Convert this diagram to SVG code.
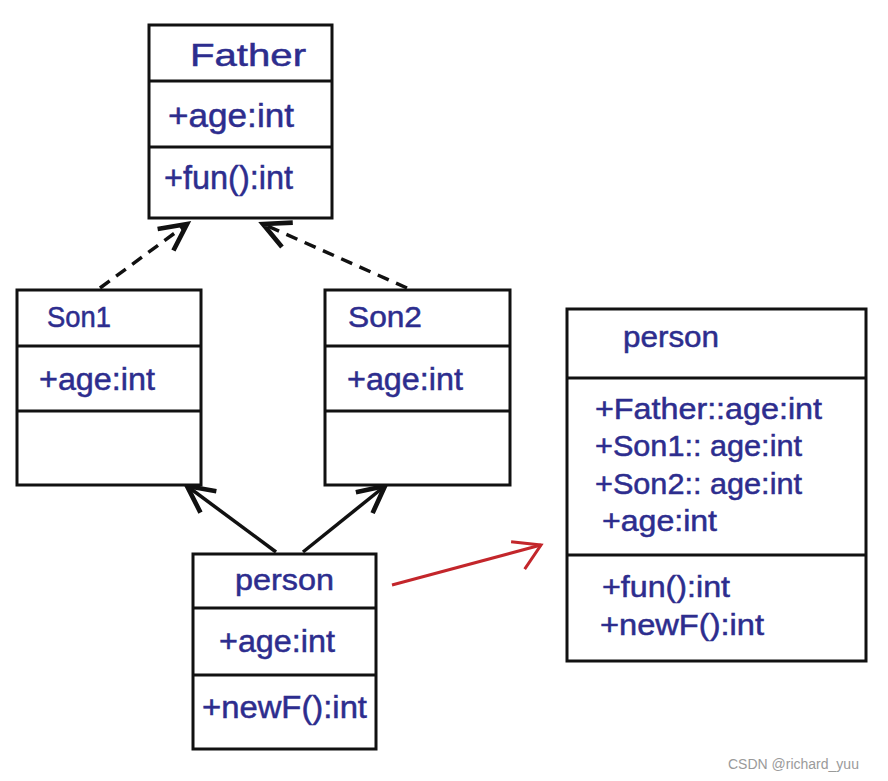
<svg xmlns="http://www.w3.org/2000/svg" width="888" height="781" viewBox="0 0 888 781">
<defs>
<style>
.box{fill:#fff;stroke:#111;stroke-width:3}
.div{stroke:#111;stroke-width:3}
.t{font-family:"Liberation Sans",Arial,sans-serif;fill:#2d2d8e;stroke:#2d2d8e;stroke-width:0.5}
.con{fill:none;stroke:#111;stroke-width:3.5}
.dash{stroke-dasharray:12 8}
.red{fill:none;stroke:#c3262b;stroke-width:3}
</style>
<marker id="open" markerUnits="userSpaceOnUse" markerWidth="40" markerHeight="40" viewBox="-25 -15 30 30" refX="0" refY="0" orient="auto">
<path d="M -20 -10 L 0 0 L -20 10" fill="none" stroke="#111" stroke-width="3.5"/>
</marker>
<marker id="openred" markerUnits="userSpaceOnUse" markerWidth="50" markerHeight="50" viewBox="-30 -25 35 50" refX="0" refY="0" orient="auto">
<path d="M -28 -11 L 0 0 L -22 19" fill="none" stroke="#c3262b" stroke-width="3"/>
</marker>
</defs>
<rect width="888" height="781" fill="#fff"/>

<g id="connectors">
<line class="con dash" x1="100" y1="288" x2="187" y2="224" marker-end="url(#open)"/>
<line class="con dash" x1="407" y1="288" x2="263" y2="224" marker-end="url(#open)"/>
<line class="con" x1="276" y1="552" x2="187" y2="486" marker-end="url(#open)"/>
<line class="con" x1="303" y1="552" x2="385" y2="486" marker-end="url(#open)"/>
<line class="red" x1="392" y1="585" x2="541" y2="545" marker-end="url(#openred)"/>
</g>

<g id="father">
<rect class="box" x="149" y="25" width="183" height="193"/>
<line class="div" x1="149" y1="81" x2="332" y2="81"/>
<line class="div" x1="149" y1="147" x2="332" y2="147"/>
<text class="t" x="190" y="66" font-size="32" textLength="116" lengthAdjust="spacingAndGlyphs">Father</text>
<text class="t" x="168" y="127" font-size="34" textLength="126" lengthAdjust="spacingAndGlyphs">+age:int</text>
<text class="t" x="164" y="189" font-size="34" textLength="129" lengthAdjust="spacingAndGlyphs">+fun():int</text>
</g>

<g id="son1">
<rect class="box" x="17" y="290" width="184" height="195"/>
<line class="div" x1="17" y1="346" x2="201" y2="346"/>
<line class="div" x1="17" y1="411" x2="201" y2="411"/>
<text class="t" x="47" y="327" font-size="29" textLength="64" lengthAdjust="spacingAndGlyphs">Son1</text>
<text class="t" x="39" y="390" font-size="31" textLength="116" lengthAdjust="spacingAndGlyphs">+age:int</text>
</g>

<g id="son2">
<rect class="box" x="325" y="290" width="185" height="195"/>
<line class="div" x1="325" y1="346" x2="510" y2="346"/>
<line class="div" x1="325" y1="411" x2="510" y2="411"/>
<text class="t" x="348" y="327" font-size="29" textLength="74" lengthAdjust="spacingAndGlyphs">Son2</text>
<text class="t" x="347" y="390" font-size="31" textLength="116" lengthAdjust="spacingAndGlyphs">+age:int</text>
</g>

<g id="person-small">
<rect class="box" x="193" y="554" width="183" height="195"/>
<line class="div" x1="193" y1="608" x2="376" y2="608"/>
<line class="div" x1="193" y1="675" x2="376" y2="675"/>
<text class="t" x="235" y="590" font-size="30" textLength="99" lengthAdjust="spacingAndGlyphs">person</text>
<text class="t" x="219" y="652" font-size="31" textLength="116" lengthAdjust="spacingAndGlyphs">+age:int</text>
<text class="t" x="202" y="718" font-size="31" textLength="165" lengthAdjust="spacingAndGlyphs">+newF():int</text>
</g>

<g id="person-expanded">
<rect class="box" x="567" y="309" width="299" height="352"/>
<line class="div" x1="567" y1="378" x2="866" y2="378"/>
<line class="div" x1="567" y1="555" x2="866" y2="555"/>
<text class="t" x="623" y="347" font-size="29" textLength="96" lengthAdjust="spacingAndGlyphs">person</text>
<text class="t" x="595" y="419" font-size="29" textLength="227" lengthAdjust="spacingAndGlyphs">+Father::age:int</text>
<text class="t" x="595" y="456" font-size="29" textLength="207" lengthAdjust="spacingAndGlyphs">+Son1:: age:int</text>
<text class="t" x="595" y="494" font-size="29" textLength="207" lengthAdjust="spacingAndGlyphs">+Son2:: age:int</text>
<text class="t" x="602" y="531" font-size="29" textLength="115" lengthAdjust="spacingAndGlyphs">+age:int</text>
<text class="t" x="602" y="597" font-size="29" textLength="128" lengthAdjust="spacingAndGlyphs">+fun():int</text>
<text class="t" x="600" y="635" font-size="29" textLength="164" lengthAdjust="spacingAndGlyphs">+newF():int</text>
</g>

<text x="728" y="769" font-family="'Liberation Sans',Arial,sans-serif" font-size="14" fill="#9a9a9a">CSDN @richard_yuu</text>
</svg>
